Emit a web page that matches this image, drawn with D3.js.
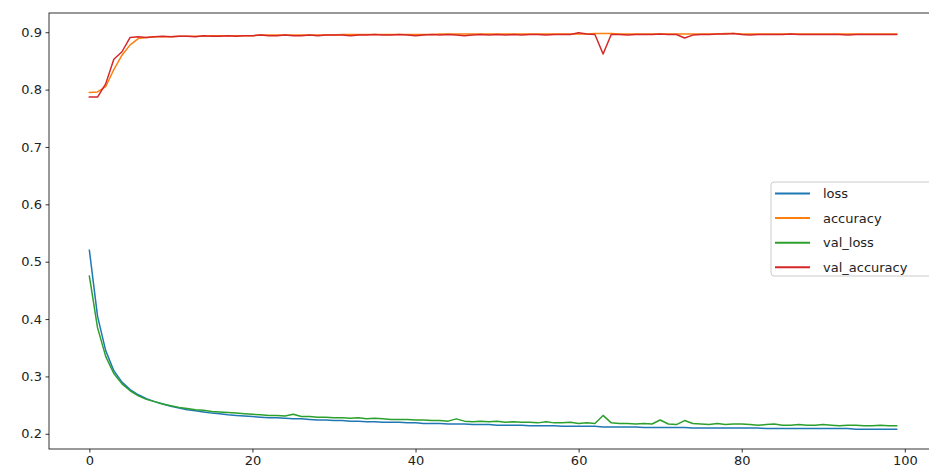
<!DOCTYPE html>
<html lang="en">
<head>
    <meta charset="UTF-8">
    <title>Training history</title>
    <script src="https://d3js.org/d3.v7.min.js"></script>
    <style>
        body {
            margin: 0;
            background-color: white;
            font-family: 'DejaVu Sans', sans-serif;
        }
        .tick text {
            fill: #222;
        }
    </style>
</head>
<body>
    <div id="chart"></div>

    <script>
        // Values, one per epoch
        const epochs = d3.range(0, 100);

        const loss = [
            0.520, 0.405, 0.345, 0.310, 0.290, 0.277, 0.268, 0.261, 0.256, 0.252,
            0.248, 0.245, 0.242, 0.240, 0.238, 0.236, 0.235, 0.233, 0.232, 0.231,
            0.230, 0.229, 0.228, 0.228, 0.227, 0.226, 0.226, 0.225, 0.224, 0.224,
            0.223, 0.223, 0.222, 0.222, 0.221, 0.221, 0.220, 0.220, 0.220, 0.219,
            0.219, 0.218, 0.218, 0.218, 0.217, 0.217, 0.217, 0.216, 0.216, 0.216,
            0.215, 0.215, 0.215, 0.215, 0.214, 0.214, 0.214, 0.214, 0.213, 0.213,
            0.213, 0.213, 0.213, 0.212, 0.212, 0.212, 0.212, 0.212, 0.211, 0.211,
            0.211, 0.211, 0.211, 0.211, 0.210, 0.210, 0.210, 0.210, 0.210, 0.210,
            0.210, 0.210, 0.210, 0.209, 0.209, 0.209, 0.209, 0.209, 0.209, 0.209,
            0.209, 0.209, 0.209, 0.209, 0.208, 0.208, 0.208, 0.208, 0.208, 0.208
        ];

        const accuracy = [
            0.795, 0.796, 0.805, 0.835, 0.860, 0.878, 0.889, 0.891, 0.892, 0.892,
            0.892, 0.893, 0.893, 0.893, 0.893, 0.894, 0.894, 0.894, 0.894, 0.894,
            0.894, 0.895, 0.895, 0.895, 0.895, 0.895, 0.895, 0.895, 0.895, 0.895,
            0.895, 0.896, 0.896, 0.896, 0.896, 0.896, 0.896, 0.896, 0.896, 0.896,
            0.896, 0.896, 0.896, 0.897, 0.897, 0.897, 0.897, 0.897, 0.897, 0.897,
            0.897, 0.897, 0.897, 0.897, 0.897, 0.897, 0.897, 0.897, 0.897, 0.897,
            0.897, 0.897, 0.898, 0.898, 0.898, 0.897, 0.897, 0.897, 0.897, 0.897,
            0.897, 0.897, 0.897, 0.897, 0.897, 0.897, 0.897, 0.897, 0.898, 0.898,
            0.897, 0.897, 0.897, 0.897, 0.897, 0.897, 0.897, 0.897, 0.897, 0.897,
            0.897, 0.897, 0.897, 0.897, 0.897, 0.897, 0.897, 0.897, 0.897, 0.897
        ];

        const valLoss = [
            0.475, 0.385, 0.335, 0.305, 0.287, 0.275, 0.266, 0.260, 0.256, 0.252,
            0.249, 0.246, 0.244, 0.242, 0.241, 0.239, 0.238, 0.237, 0.236, 0.235,
            0.234, 0.233, 0.232, 0.232, 0.231, 0.234, 0.230, 0.230, 0.229, 0.229,
            0.228, 0.228, 0.227, 0.228, 0.226, 0.227, 0.226, 0.225, 0.225, 0.225,
            0.224, 0.224, 0.223, 0.223, 0.222, 0.226, 0.222, 0.221, 0.222, 0.221,
            0.222, 0.220, 0.221, 0.220, 0.220, 0.219, 0.221, 0.219, 0.219, 0.220,
            0.218, 0.219, 0.218, 0.232, 0.219, 0.218, 0.218, 0.217, 0.218, 0.217,
            0.224, 0.217, 0.216, 0.223, 0.218, 0.217, 0.216, 0.218, 0.216, 0.217,
            0.217, 0.216, 0.215, 0.216, 0.217, 0.215, 0.215, 0.216, 0.215, 0.215,
            0.216, 0.215, 0.214, 0.215, 0.215, 0.214, 0.214, 0.215, 0.214, 0.214
        ];

        const valAccuracy = [
            0.787, 0.787, 0.810, 0.853, 0.866, 0.891, 0.892, 0.891, 0.892, 0.893,
            0.892, 0.893, 0.893, 0.892, 0.894, 0.893, 0.893, 0.894, 0.893, 0.894,
            0.894, 0.895, 0.894, 0.894, 0.895, 0.894, 0.894, 0.895, 0.894, 0.895,
            0.895, 0.895, 0.894, 0.895, 0.895, 0.896, 0.895, 0.895, 0.896, 0.895,
            0.894, 0.895, 0.896, 0.895, 0.896, 0.895, 0.894, 0.895, 0.896, 0.895,
            0.896, 0.895, 0.896, 0.895, 0.896, 0.896, 0.895, 0.896, 0.896, 0.896,
            0.899, 0.897, 0.896, 0.862, 0.896, 0.896, 0.895, 0.896, 0.896, 0.896,
            0.897, 0.896, 0.896, 0.890, 0.895, 0.896, 0.896, 0.897, 0.897, 0.898,
            0.896, 0.895, 0.896, 0.896, 0.896, 0.896, 0.897, 0.896, 0.896, 0.896,
            0.896, 0.896, 0.896, 0.895, 0.896, 0.896, 0.896, 0.896, 0.896, 0.896
        ];

        const seriesNames = ["loss", "accuracy", "val_loss", "val_accuracy"];
        const seriesColors = ["#1f77b4", "#ff7f0e", "#2ca02c", "#d62728"];
        const xTicks = [0, 20, 40, 60, 80, 100];
        const yTicks = [0.2, 0.3, 0.4, 0.5, 0.6, 0.7, 0.8, 0.9];

        const series = [loss, accuracy, valLoss, valAccuracy];

        const W = 929, H = 473;
        // axes box; the right spine falls just outside the picture
        const box = { left: 49, top: 13, right: 937, bottom: 449 };

        const svg = d3.select("#chart")
            .append("svg")
            .attr("width", W)
            .attr("height", H)
            .style("display", "block");

        // matplotlib-style 5% margins around the data
        const xMin = d3.min(epochs), xMax = d3.max(epochs);
        const xPad = (xMax - xMin) * 0.05;
        const allY = series.flat();
        const yMin = d3.min(allY), yMax = d3.max(allY);
        const yPad = (yMax - yMin) * 0.05;

        const x = d3.scaleLinear()
            .domain([xMin - xPad, xMax + xPad])
            .range([box.left, box.right]);

        const y = d3.scaleLinear()
            .domain([yMin - yPad, yMax + yPad])
            .range([box.bottom, box.top]);

        // Lines
        const line = d3.line()
            .x((d, i) => x(epochs[i]))
            .y(d => y(d));

        series.forEach((vals, k) => {
            svg.append("path")
                .datum(vals)
                .attr("fill", "none")
                .attr("stroke", seriesColors[k])
                .attr("stroke-width", 1.5)
                .attr("stroke-linejoin", "round")
                .attr("stroke-linecap", "square")
                .attr("d", line);
        });

        // Axes
        const xAxis = svg.append("g")
            .attr("transform", `translate(0,${box.bottom})`)
            .call(d3.axisBottom(x).tickValues(xTicks).tickSize(3.5).tickPadding(3.5).tickFormat(d3.format("d")));

        const yAxis = svg.append("g")
            .attr("transform", `translate(${box.left},0)`)
            .call(d3.axisLeft(y).tickValues(yTicks).tickSize(3.5).tickPadding(3.5).tickFormat(d3.format(".1f")));

        [xAxis, yAxis].forEach(g => {
            g.select(".domain").remove();
            g.selectAll("line").attr("stroke", "#000").attr("stroke-width", 0.8);
            g.selectAll("text")
                .style("font-family", "'DejaVu Sans', sans-serif")
                .style("font-size", "13px");
        });

        // Frame
        svg.append("rect")
            .attr("x", box.left)
            .attr("y", box.top)
            .attr("width", box.right - box.left)
            .attr("height", box.bottom - box.top)
            .attr("fill", "none")
            .attr("stroke", "#000")
            .attr("stroke-width", 0.8);

        // Legend
        const legend = svg.append("g")
            .attr("transform", "translate(771,182)");

        legend.append("rect")
            .attr("width", 162)
            .attr("height", 94)
            .attr("rx", 3)
            .attr("fill", "white")
            .attr("fill-opacity", 0.8)
            .attr("stroke", "#cccccc")
            .attr("stroke-width", 1);

        const items = legend.selectAll(".item")
            .data(seriesNames)
            .enter().append("g")
            .attr("class", "item")
            .attr("transform", (d, i) => `translate(0,${11.5 + i * 24.6})`);

        items.append("line")
            .attr("x1", 4)
            .attr("x2", 39)
            .attr("stroke", (d, i) => seriesColors[i])
            .attr("stroke-width", 2);

        items.append("text")
            .attr("x", 52)
            .attr("y", 4.5)
            .style("font-family", "'DejaVu Sans', sans-serif")
            .style("font-size", "13px")
            .attr("fill", "#222")
            .text(d => d);
    </script>
</body>
</html>
